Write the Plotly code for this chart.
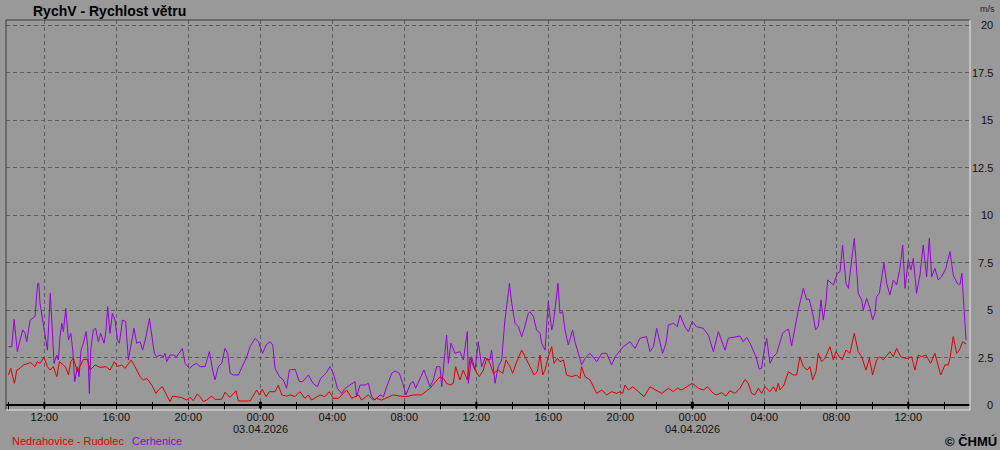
import pandas as pd
import plotly.graph_objects as go

BASE = pd.Timestamp("2026-04-02 00:00")

# hours since 02.04.2026 00:00 and wind speed [m/s]
red_hours = [
    10.00, 10.13, 10.34, 10.47, 10.65, 10.83, 11.02, 11.24, 11.48, 11.61,
    11.76, 11.98, 12.17, 12.32, 12.50, 12.69, 12.84, 13.06, 13.21, 13.34,
    13.47, 13.61, 13.84, 13.98, 14.17, 14.39, 14.54, 14.82, 15.09, 15.43,
    15.65, 15.89, 16.06, 16.30, 16.48, 16.82, 17.04, 17.32, 17.50, 17.69,
    17.97, 18.20, 18.33, 18.56, 18.80, 18.98, 19.13, 19.35, 19.63, 19.91,
    20.09, 20.28, 20.50, 20.65, 20.83, 21.02, 21.30, 21.48, 21.85, 22.04,
    22.32, 22.65, 22.78, 23.43,
    23.71, 23.80, 23.95, 24.11, 24.32, 24.50, 24.82, 25.00, 25.19, 25.46,
    25.65, 25.93, 26.20, 26.48, 26.67, 26.85, 27.32, 27.59, 27.83, 28.06,
    28.34, 28.80, 29.08, 29.45, 29.63, 30.00, 30.28, 30.46, 30.74, 31.39,
    31.76, 32.13, 32.50, 32.96, 33.43, 33.98, 34.17, 34.35, 34.54, 34.72,
    34.85, 35.09, 35.28, 35.50, 35.65, 35.93, 36.17, 36.39, 36.58, 36.76,
    36.95, 37.22, 37.47, 37.65, 37.87, 38.02, 38.21, 38.52, 38.71, 38.98,
    39.21, 39.39, 39.54, 39.69, 39.82, 40.00, 40.19, 40.32, 40.50, 40.65,
    40.84, 41.02, 41.30, 41.58, 41.76, 41.85, 42.04, 42.32, 42.50, 42.69,
    42.97, 43.24, 43.52, 43.80, 43.98, 44.13, 44.26, 44.45, 44.69, 44.91,
    45.32, 45.65, 45.93, 46.30, 46.67, 46.95, 47.17, 47.41, 47.69, 48.00,
    48.34, 48.61, 48.84, 49.17, 49.35, 49.63, 49.87, 50.09,
    50.37, 50.65, 50.93, 51.11, 51.30, 51.48, 51.67, 51.85, 52.04, 52.32,
    52.50, 52.65, 52.78, 52.87, 53.09, 53.34, 53.61, 53.80, 53.98, 54.17,
    54.39, 54.54, 54.69, 54.87, 55.00, 55.19, 55.37, 55.65, 55.84, 55.98,
    56.17, 56.33, 56.54, 56.76, 57.00, 57.22, 57.41, 57.65, 57.84, 58.02,
    58.24, 58.43, 58.61, 58.98, 59.17, 59.35, 59.58, 59.82, 60.00, 60.19,
    60.37, 60.56, 60.74, 60.98, 61.24, 61.48, 61.80, 62.04, 62.22, 62.32,
    62.50, 62.69, 62.84, 63.02, 63.21,
]
red_speed = [
    1.58, 1.93, 1.14, 1.84, 1.93, 2.11, 2.16, 2.23, 2.02, 2.28,
    2.19, 2.51, 2.02, 1.84, 2.02, 1.49, 2.28, 2.11, 1.93, 1.58,
    2.28, 2.46, 1.75, 2.02, 2.40, 2.40, 1.84, 2.11, 1.98, 2.02,
    1.84, 2.28, 2.02, 2.11, 1.93, 2.37, 2.02, 1.49, 1.32, 1.40,
    1.05, 0.61, 0.79, 0.96, 0.53, 0.18, 0.47, 0.44, 0.39, 0.26,
    0.40, 0.23, 0.58, 0.44, 0.18, 0.26, 0.47, 0.30, 0.30, 0.67,
    0.40, 0.75, 0.21, 0.21,
    0.61, 0.79, 0.53, 0.82, 0.44, 0.70, 0.70, 1.05, 0.53, 0.47,
    0.53, 0.44, 0.70, 0.35, 0.53, 0.26, 0.53, 0.44, 0.70, 0.35,
    0.35, 0.79, 0.35, 0.53, 0.26, 0.53, 0.26, 0.35, 0.26, 0.53,
    0.47, 0.44, 0.53, 0.53, 0.88, 1.49, 1.40, 1.14, 1.05, 1.14,
    2.02, 1.32, 1.84, 1.32, 2.46, 1.84, 1.49, 1.84, 2.46, 2.19,
    1.67, 1.84, 1.67, 2.37, 2.02, 1.67, 2.19, 2.89, 2.54, 2.02,
    1.58, 1.75, 2.63, 1.58, 1.84, 2.54, 3.07, 2.19, 2.46, 2.28,
    2.37, 1.58, 1.49, 1.58, 1.40, 2.02, 1.49, 1.32, 0.96, 0.61,
    0.79, 0.53, 0.70, 0.61, 0.70, 0.61, 1.05, 0.79, 0.96, 0.79,
    0.44, 0.96, 0.79, 0.61, 0.88, 0.70, 0.88, 0.79, 0.96, 1.14,
    0.88, 0.79, 0.96, 0.61, 0.53, 0.65, 0.47, 0.75,
    0.61, 0.88, 1.35, 1.14, 0.61, 0.53, 0.88, 0.61, 0.96, 0.70,
    0.96, 0.70, 1.14, 0.79, 1.05, 1.75, 1.58, 1.58, 2.54, 2.02,
    1.84, 2.02, 1.32, 1.75, 2.72, 2.28, 2.46, 3.07, 2.37, 2.81,
    2.54, 2.37, 2.89, 2.72, 3.77, 2.81, 2.54, 1.84, 2.46, 1.58,
    2.37, 2.54, 2.37, 2.81, 2.54, 2.98, 2.54, 2.46, 2.46, 2.54,
    1.84, 2.63, 2.54, 2.63, 2.19, 2.72, 1.58, 2.11, 2.11, 2.46,
    3.60, 2.72, 2.89, 3.33, 3.21,
]

purple_hours = [
    10.00, 10.19, 10.32, 10.50, 10.65, 10.80, 10.93, 11.02, 11.21, 11.48,
    11.63, 11.69, 11.76, 11.95, 12.04, 12.17, 12.33, 12.41, 12.54, 12.69,
    12.78, 12.87, 12.97, 13.06, 13.19, 13.34, 13.47, 13.58, 13.69, 13.84,
    13.93, 14.04, 14.17, 14.32, 14.41, 14.50, 14.58, 14.72, 14.85, 15.00,
    15.13, 15.32, 15.43, 15.52, 15.65, 15.78, 15.93, 16.06, 16.17, 16.34,
    16.52, 16.67, 16.80, 16.98, 17.13, 17.32, 17.46, 17.65, 17.84, 17.97,
    18.11, 18.24, 18.43, 18.61, 18.70, 18.80, 18.98, 19.17, 19.35, 19.67,
    19.82, 20.06, 20.28, 20.46, 20.65, 20.93, 21.17, 21.35, 21.48, 21.67,
    21.85, 22.04, 22.19, 22.32, 22.50, 22.78, 22.96, 23.24, 23.43,
    23.71, 23.89, 24.13, 24.32, 24.54, 24.69, 24.82, 25.06, 25.28, 25.46,
    25.61, 25.93, 26.17, 26.35, 26.67, 26.93, 27.17, 27.35, 27.65, 27.87,
    28.06, 28.28, 28.52, 28.71, 28.98, 29.26, 29.35, 29.54, 29.82, 30.00,
    30.19, 30.37, 30.65, 30.84, 31.02, 31.30, 31.48, 31.72, 31.91, 32.09,
    32.35, 32.50, 32.63, 32.84, 33.09, 33.43, 33.61, 33.80, 33.98, 34.08,
    34.35, 34.45, 34.59, 34.82, 35.09, 35.28, 35.50, 35.56, 35.74, 35.93,
    36.11, 36.30, 36.48, 36.76,
    36.85, 37.04, 37.22, 37.41, 37.59, 37.78, 37.84, 37.97, 38.15, 38.34,
    38.52, 38.67, 38.89, 38.98, 39.17, 39.35, 39.54, 39.63, 39.82, 40.00,
    40.19, 40.28, 40.47, 40.54, 40.65, 40.80, 40.93, 41.11, 41.35, 41.48,
    41.67, 41.85, 42.04, 42.32, 42.69, 42.97, 43.24, 43.52, 43.71, 43.98,
    44.17, 44.54, 44.82, 45.09, 45.46, 45.65, 45.84, 46.02, 46.35, 46.54,
    46.67, 46.95, 47.17, 47.32, 47.59, 47.78, 48.00, 48.24, 48.61, 48.89,
    49.17, 49.45, 49.82, 50.00,
    50.37, 50.65, 50.83, 51.02, 51.21, 51.39, 51.54, 51.72, 51.85, 52.00,
    52.13, 52.32, 52.50, 52.69, 52.84, 53.02, 53.24, 53.35, 53.52, 53.65,
    53.89, 54.17, 54.35, 54.50, 54.69, 54.85, 55.00, 55.15, 55.28, 55.43,
    55.52, 55.84, 56.06, 56.21, 56.35, 56.54, 56.67, 56.91, 57.00, 57.09,
    57.22, 57.41, 57.50, 57.69, 57.87, 58.02, 58.15, 58.24, 58.39, 58.65,
    58.80, 58.98, 59.17, 59.35, 59.54, 59.69, 59.82, 60.00, 60.15, 60.28,
    60.46, 60.65, 60.83, 61.02, 61.17, 61.30, 61.48, 61.67, 61.85, 62.09,
    62.32, 62.50, 62.72, 62.87, 62.98, 63.09, 63.15, 63.21,
]
purple_speed = [
    3.07, 3.07, 4.51, 2.81, 3.42, 3.95, 3.77, 3.33, 4.47, 4.65,
    6.40, 6.40, 5.35, 4.12, 3.60, 2.89, 5.88, 4.47, 2.19, 2.63,
    2.37, 3.60, 4.30, 3.86, 5.09, 3.42, 3.77, 2.89, 1.23, 2.02,
    1.49, 2.89, 3.25, 3.86, 3.07, 0.61, 2.89, 3.95, 4.04, 3.33,
    3.77, 3.25, 3.95, 5.18, 3.77, 4.82, 4.47, 3.42, 3.25, 4.47,
    4.39, 2.37, 3.16, 4.04, 3.25, 3.33, 2.89, 3.60, 4.56, 3.60,
    2.72, 2.54, 2.63, 2.54, 2.72, 2.28, 2.63, 2.63, 2.54, 2.98,
    2.19, 1.93, 2.11, 2.19, 2.02, 2.02, 2.81, 1.84, 1.32, 2.02,
    2.19, 2.98, 2.72, 1.67, 1.58, 1.58, 1.93, 2.51, 3.07,
    3.51, 3.33, 2.72, 3.16, 3.33, 3.16, 1.93, 1.49, 1.32, 0.88,
    1.84, 1.88, 1.23, 1.23, 1.58, 1.14, 0.96, 1.40, 1.67, 2.02,
    1.67, 0.88, 0.61, 0.88, 1.05, 1.23, 0.44, 1.05, 1.05, 1.14,
    0.44, 0.26, 0.53, 0.44, 0.96, 1.67, 1.79, 1.67, 1.14, 0.53,
    1.14, 1.23, 0.88, 1.32, 1.84, 0.96, 1.32, 2.02, 2.02, 0.96,
    3.68, 2.19, 3.25, 2.72, 2.81, 2.37, 3.86, 1.14, 2.54, 1.84,
    3.33, 2.02, 2.46, 2.37,
    2.89, 1.14, 2.02, 2.37, 4.47, 5.88, 6.40, 5.35, 4.30, 4.12,
    3.60, 4.04, 4.82, 4.91, 4.65, 3.95, 3.77, 3.25, 2.89, 5.44,
    3.95, 4.30, 5.96, 6.40, 4.82, 4.91, 3.95, 3.16, 3.95, 3.33,
    2.72, 2.11, 2.46, 2.72, 2.28, 2.72, 2.72, 2.11, 2.54, 2.89,
    3.07, 3.33, 2.98, 3.51, 3.60, 2.81, 3.07, 4.04, 2.72, 3.25,
    4.21, 4.30, 4.12, 4.74, 4.12, 3.86, 4.39, 4.12, 4.04, 3.68,
    2.81, 3.86, 2.89, 3.51,
    3.56, 3.63, 3.33, 3.56, 3.25, 2.81, 2.54, 1.88, 1.93, 2.89,
    3.51, 2.19, 2.54, 2.72, 3.16, 3.77, 3.95, 3.98, 3.11, 3.77,
    5.00, 6.14, 5.56, 5.56, 4.82, 3.95, 4.12, 5.53, 4.47, 5.44,
    6.58, 6.32, 6.93, 7.02, 8.42, 6.40, 6.14, 8.07, 8.77, 7.72,
    5.88, 5.53, 5.00, 5.61, 5.09, 4.47, 4.82, 5.70, 5.88, 7.46,
    6.40, 5.79, 6.58, 6.32, 7.19, 8.42, 6.14, 7.63, 7.11, 7.72,
    5.88, 6.84, 8.42, 6.75, 8.77, 6.75, 7.19, 6.58, 6.75, 7.19,
    8.07, 6.84, 6.40, 6.32, 6.93, 5.18, 3.95, 3.42,
]

assert len(red_hours) == len(red_speed), (len(red_hours), len(red_speed))
assert len(purple_hours) == len(purple_speed), (len(purple_hours), len(purple_speed))

series_names = ["Nedrahovice - Rudolec", "Cerhenice"]
series_colors = ["#e00000", "#9a00dc"]

y_ticks = [0, 2.5, 5, 7.5, 10, 12.5, 15, 17.5, 20]
y_tick_labels = ["0", "2.5", "5", "7.5", "10", "12.5", "15", "17.5", "20"]

major_tick_hours = list(range(12, 61, 4))
x_range_hours = [9.87, 63.43]

title_text = "RychV - Rychlost větru"
unit_text = "m/s"
credit_text = "© ČHMÚ"

FONT = "Liberation Sans"
BG = "#999999"
GRID = "#5f5f5f"
TXT = "#111111"


def to_time(hours):
    return [BASE + pd.Timedelta(hours=h) for h in hours]


red_t = to_time(red_hours)
purple_t = to_time(purple_hours)
tickvals = to_time(major_tick_hours)
ticktext = [t.strftime("%H:%M") for t in tickvals]
midnights = [t for t in tickvals if t.hour == 0]
xr = to_time(x_range_hours)

W, H = 1000, 450
ML, MR, MT, MB = 6, 5, 20, 40
pw = W - ML - MR
ph = H - MT - MB
plot_right_px = 970
x_dom = (plot_right_px - ML) / pw
yr = [-5 / 19, 20 + 5 / 19]
x_axis_pos = (0 - yr[0]) / (yr[1] - yr[0])

fig = go.Figure()
fig.add_trace(go.Scatter(x=purple_t, y=purple_speed, mode="lines",
                         line=dict(color=series_colors[1], width=1),
                         name=series_names[1], hoverinfo="skip"))
fig.add_trace(go.Scatter(x=red_t, y=red_speed, mode="lines",
                         line=dict(color=series_colors[0], width=1),
                         name=series_names[0], hoverinfo="skip"))
# carrier for the second (inside-tick) x axis
fig.add_trace(go.Scatter(x=red_t, y=red_speed, mode="none", xaxis="x2",
                         showlegend=False, hoverinfo="skip"))

two_h = 2 * 3600 * 1000
fig.update_layout(
    width=W, height=H,
    margin=dict(l=ML, r=MR, t=MT, b=MB, pad=0),
    paper_bgcolor=BG, plot_bgcolor=BG,
    showlegend=False,
    font=dict(family=FONT, size=11, color=TXT),
    xaxis=dict(
        domain=[0, x_dom], range=xr, anchor="free", position=x_axis_pos,
        tickmode="array", tickvals=tickvals, ticktext=ticktext,
        showgrid=True, gridcolor=GRID, griddash="4px,3px", gridwidth=1,
        showline=True, linecolor="#000000", linewidth=2,
        ticks="outside", ticklen=4, tickwidth=1, tickcolor="#000000",
        ticklabelstandoff=-2,
        minor=dict(dtick=two_h, tick0=BASE, ticks="outside", ticklen=4,
                   tickwidth=1, tickcolor="#000000", showgrid=False),
        zeroline=False, tickfont=dict(size=11, color=TXT),
    ),
    xaxis2=dict(
        domain=[0, x_dom], range=xr, anchor="free", position=x_axis_pos,
        overlaying="x", tickmode="array", tickvals=tickvals,
        showticklabels=False, showgrid=False, showline=False, zeroline=False,
        ticks="inside", ticklen=3, tickwidth=1, tickcolor="#000000",
        minor=dict(dtick=two_h, tick0=BASE, ticks="inside", ticklen=3,
                   tickwidth=1, tickcolor="#000000", showgrid=False),
    ),
    yaxis=dict(
        domain=[0, 1], range=yr, side="right",
        tickmode="array", tickvals=y_ticks, showticklabels=False,
        showgrid=True, gridcolor=GRID, griddash="4px,3px", gridwidth=1,
        showline=False, ticks="", zeroline=False,
    ),
)

# sunken frame around the plot area
frame = [
    ((0, 1), (1, 1), "#3c3c3c"),
    ((0, 0), (0, 1), "#3c3c3c"),
    ((1, 0), (1, 1), "#e8e8e8"),
    ((0, 0), (1, 0), "#e8e8e8"),
]
for (x0, y0), (x1, y1), c in frame:
    fig.add_shape(type="line", xref="x domain", yref="y domain",
                  x0=x0, y0=y0, x1=x1, y1=y1, line=dict(color=c, width=1))

# heavier ticks at noon and midnight
for t in tickvals:
    if t.hour in (0, 12):
        fig.add_shape(type="line", xref="x", yref="y", x0=t, x1=t,
                      y0=-0.17, y1=0.17,
                      line=dict(color="#000000", width=3 if t.hour == 0 else 2))


def px_x(px):
    return (px - ML) / pw


def px_y(py):
    return (H - MB - py) / ph


# right-aligned value labels on the right side
for v, lab in zip(y_ticks, y_tick_labels):
    fig.add_annotation(text=lab, xref="paper", yref="y", x=px_x(995), y=v,
                       xanchor="right", yanchor="middle", showarrow=False,
                       font=dict(family=FONT, size=11, color=TXT))

# date lines under the midnight ticks
for t in midnights:
    fig.add_annotation(text=t.strftime("%d.%m.%Y"), xref="x", yref="paper",
                       x=t, y=px_y(428.5), xanchor="center", yanchor="middle",
                       showarrow=False, font=dict(family=FONT, size=11, color=TXT))

fig.add_annotation(text="<b>" + title_text + "</b>", xref="paper", yref="paper",
                   x=px_x(31), y=px_y(11), xanchor="left", yanchor="middle",
                   showarrow=False, font=dict(family=FONT, size=14, color="#000000"))
fig.add_annotation(text=unit_text, xref="paper", yref="paper",
                   x=px_x(987), y=px_y(9), xanchor="center", yanchor="middle",
                   showarrow=False, font=dict(family=FONT, size=9, color="#222233"))
fig.add_annotation(text=series_names[0], xref="paper", yref="paper",
                   x=px_x(10), y=px_y(441), xanchor="left", yanchor="middle",
                   showarrow=False, font=dict(family=FONT, size=11, color=series_colors[0]))
fig.add_annotation(text=series_names[1], xref="paper", yref="paper",
                   x=px_x(130), y=px_y(441), xanchor="left", yanchor="middle",
                   showarrow=False, font=dict(family=FONT, size=11, color=series_colors[1]))
fig.add_annotation(text="<b>" + credit_text + "</b>", xref="paper", yref="paper",
                   x=px_x(999), y=px_y(441), xanchor="right", yanchor="middle",
                   showarrow=False, font=dict(family=FONT, size=13, color="#000000"))

fig.write_html("out.html", config={"displayModeBar": False},
               post_script="document.body.style.margin='0';document.body.style.overflow='hidden';")
